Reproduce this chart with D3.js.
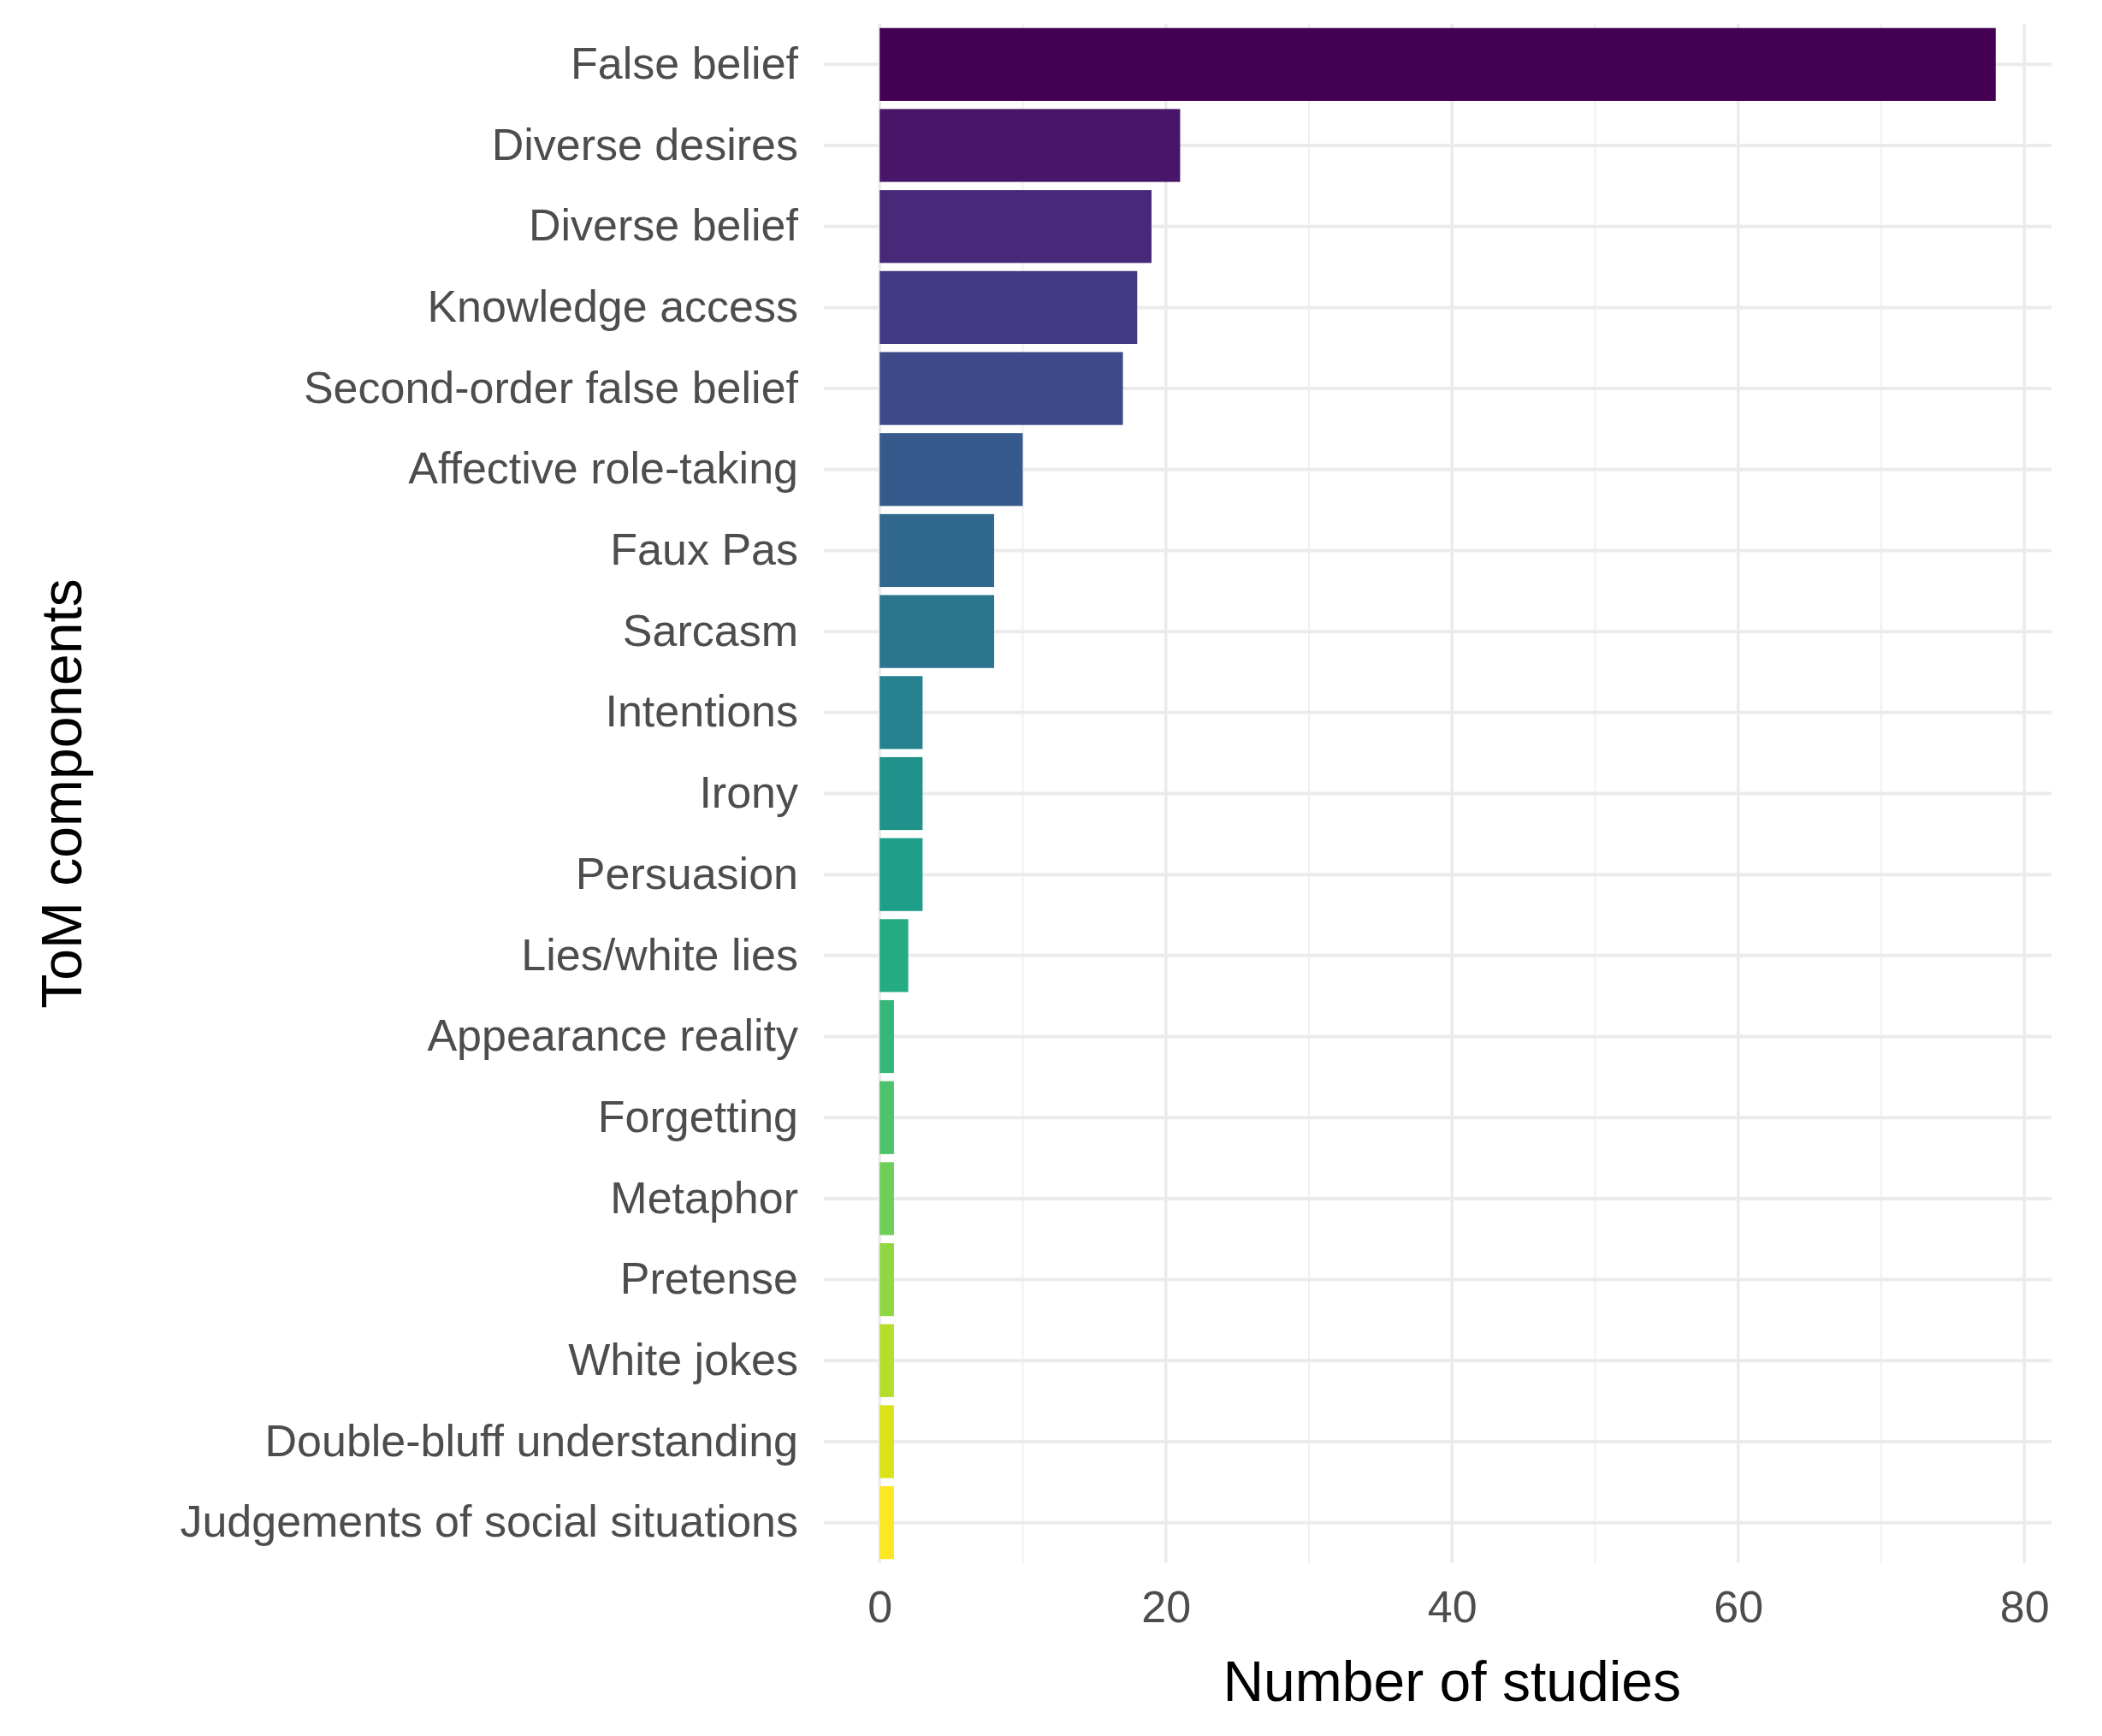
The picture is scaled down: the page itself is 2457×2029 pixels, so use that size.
<!DOCTYPE html>
<html><head><meta charset="utf-8">
<script src="https://cdn.jsdelivr.net/npm/d3@7"></script>
<style>body{margin:0;background:#fff}</style></head>
<body><svg id="c" width="2457" height="2029"></svg>
<script>
const categories=["False belief","Diverse desires","Diverse belief","Knowledge access","Second-order false belief","Affective role-taking","Faux Pas","Sarcasm","Intentions","Irony","Persuasion","Lies/white lies","Appearance reality","Forgetting","Metaphor","Pretense","White jokes","Double-bluff understanding","Judgements of social situations"];
const values=[78,21,19,18,17,10,8,8,3,3,3,2,1,1,1,1,1,1,1];
const xTicks=[0,20,40,60,80];
const xMinor=[10,30,50,70];
const svg=d3.select("#c");
const L=963,R=2398,T=28,B=1827;
const x=d3.scaleLinear().domain([-3.9,81.9]).range([L,R]);
const y=d3.scaleBand().domain(categories).range([T,B]).paddingInner(0.1).paddingOuter(0.05);
const g=svg.append("g");
g.selectAll(".mn").data(xMinor).join("line").attr("x1",d=>x(d)).attr("x2",d=>x(d)).attr("y1",T).attr("y2",B).attr("stroke","#f0f0f0").attr("stroke-width",2);
g.selectAll(".mj").data(xTicks).join("line").attr("x1",d=>x(d)).attr("x2",d=>x(d)).attr("y1",T).attr("y2",B).attr("stroke","#ebebeb").attr("stroke-width",3.5);
g.selectAll(".hy").data(categories).join("line").attr("x1",L).attr("x2",R).attr("y1",d=>y(d)+y.bandwidth()/2).attr("y2",d=>y(d)+y.bandwidth()/2).attr("stroke","#ebebeb").attr("stroke-width",4);
g.selectAll("rect").data(categories).join("rect").attr("x",x(0)).attr("y",d=>y(d)).attr("height",y.bandwidth())
 .attr("width",(d,i)=>x(values[i])-x(0)).attr("fill",(d,i)=>d3.interpolateViridis(i/(categories.length-1)));
const ya=svg.append("g").attr("transform",`translate(${L-30},0)`).call(d3.axisLeft(y).tickSize(0).tickPadding(0));
ya.select(".domain").remove();
ya.selectAll("text").attr("font-family","Liberation Sans, Arial, sans-serif").attr("font-size",52).attr("fill","#4d4d4d");
const xa=svg.append("g").attr("transform",`translate(0,${B+20})`).call(d3.axisBottom(x).tickValues(xTicks).tickSize(0).tickPadding(0));
xa.select(".domain").remove();
xa.selectAll("text").attr("font-family","Liberation Sans, Arial, sans-serif").attr("font-size",52).attr("fill","#4d4d4d").attr("dy","0.95em");
svg.append("text").attr("x",(x(0)+x(80))/2 ).attr("y",1988).attr("text-anchor","middle").attr("font-family","Liberation Sans, Arial, sans-serif").attr("font-size",66).text("Number of studies");
svg.append("text").attr("transform",`translate(95,${(T+B)/2}) rotate(-90)`).attr("text-anchor","middle").attr("font-family","Liberation Sans, Arial, sans-serif").attr("font-size",66).text("ToM components");
</script></body></html>
